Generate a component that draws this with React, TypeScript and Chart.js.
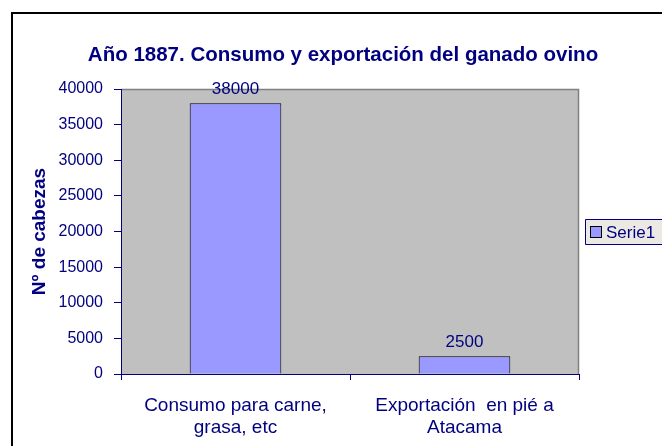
import React, { useEffect, useRef } from "react";
import { Chart, registerables } from "chart.js";

Chart.register(...registerables);

const categories: string[][] = [
  ["Consumo para carne,", "grasa, etc"],
  ["Exportación  en pié a", "Atacama"],
];
const serieValues: number[] = [38000, 2500];
const seriesLabel = "Serie1";
const chartTitle = "Año 1887. Consumo y exportación del ganado ovino";
const yAxisTitle = "Nº de cabezas";
const yMin = 0;
const yMax = 40000;
const yStep = 5000;

const NAVY = "#000080";
const FONT = "'Liberation Sans', Arial, Helvetica, sans-serif";

const plotBg = {
  id: "plotBg",
  beforeDraw(chart: any) {
    const { ctx, chartArea } = chart;
    const { left, top, right, bottom } = chartArea;
    ctx.save();
    ctx.fillStyle = "#C0C0C0";
    ctx.fillRect(left, top, right - left, bottom - top);
    ctx.strokeStyle = "#808080";
    ctx.lineWidth = 1.5;
    ctx.beginPath();
    ctx.moveTo(left, top + 0.5);
    ctx.lineTo(right - 0.5, top + 0.5);
    ctx.lineTo(right - 0.5, bottom);
    ctx.stroke();
    ctx.restore();
  },
};

const dataLabels = {
  id: "dataLabels",
  afterDatasetsDraw(chart: any) {
    const { ctx } = chart;
    ctx.save();
    ctx.font = `17px ${FONT}`;
    ctx.fillStyle = NAVY;
    ctx.textAlign = "center";
    ctx.textBaseline = "alphabetic";
    chart.data.datasets.forEach((ds: any, di: number) => {
      const meta = chart.getDatasetMeta(di);
      meta.data.forEach((bar: any, i: number) => {
        ctx.fillText(String(ds.data[i]), bar.x, bar.y - 9);
      });
    });
    ctx.restore();
  },
};

const customLegend = {
  id: "customLegend",
  afterDraw(chart: any) {
    const { ctx, chartArea, width } = chart;
    const ds = chart.data.datasets[0];
    const cy = Math.round((chartArea.top + chartArea.bottom) / 2);
    const left = Math.round(chartArea.right + 6);
    const top = cy - 13;
    const bottom = cy + 13;
    ctx.save();
    ctx.fillStyle = "#ECE9E4";
    ctx.fillRect(left, top, width - left + 10, bottom - top);
    ctx.strokeStyle = NAVY;
    ctx.lineWidth = 1;
    ctx.beginPath();
    ctx.moveTo(width + 10, top + 0.5);
    ctx.lineTo(left + 0.5, top + 0.5);
    ctx.lineTo(left + 0.5, bottom - 0.5);
    ctx.lineTo(width + 10, bottom - 0.5);
    ctx.stroke();
    ctx.fillStyle = ds.backgroundColor;
    ctx.fillRect(left + 5, cy - 6, 12, 12);
    ctx.strokeStyle = "#000000";
    ctx.strokeRect(left + 5.5, cy - 5.5, 11, 11);
    ctx.font = `17px ${FONT}`;
    ctx.fillStyle = NAVY;
    ctx.textAlign = "left";
    ctx.textBaseline = "middle";
    ctx.fillText(ds.label, left + 21, cy + 1);
    ctx.restore();
  },
};

export default function App() {
  const ref = useRef<HTMLCanvasElement | null>(null);
  useEffect(() => {
    if (!ref.current) return;
    const chart = new Chart(ref.current, {
      type: "bar",
      data: {
        labels: categories,
        datasets: [
          {
            label: seriesLabel,
            data: serieValues,
            backgroundColor: "#9999FF",
            borderColor: "#000000",
            borderWidth: 1,
            barPercentage: 0.4,
            categoryPercentage: 1,
            yAxisID: "y",
          },
        ],
      },
      options: {
        responsive: false,
        animation: false,
        devicePixelRatio: 1,
        layout: { padding: { left: 24, right: 0, top: 0, bottom: 0 } },
        plugins: {
          legend: { display: false },
          tooltip: { enabled: false },
          title: {
            display: true,
            text: chartTitle,
            color: NAVY,
            font: { family: FONT, size: 20.5, weight: "bold", lineHeight: 1.2 },
            padding: { top: 42.7, bottom: 21.7 },
          },
        },
        scales: {
          x: {
            afterFit(scale: any) {
              scale.height = 72;
            },
            grid: {
              display: true,
              drawOnChartArea: false,
              drawTicks: true,
              tickLength: 6,
              color: NAVY,
              offset: true,
            },
            border: { display: true, color: NAVY, width: 1 },
            ticks: {
              color: NAVY,
              font: { family: FONT, size: 19, lineHeight: 1.2 },
              padding: 14,
              maxRotation: 0,
              autoSkip: false,
            },
          },
          y: {
            min: yMin,
            max: yMax,
            afterFit(scale: any) {
              scale.width = 97;
            },
            grid: {
              display: true,
              drawOnChartArea: false,
              drawTicks: true,
              tickLength: 7,
              color: NAVY,
            },
            border: { display: true, color: NAVY, width: 1 },
            ticks: {
              stepSize: yStep,
              color: NAVY,
              font: { family: FONT, size: 16 },
              padding: 11,
              callback: (v: any) => String(v),
            },
            title: {
              display: true,
              text: yAxisTitle,
              color: NAVY,
              font: { family: FONT, size: 19, weight: "bold", lineHeight: 1.2 },
              padding: { top: 4, bottom: 0 },
            },
          },
          legendSpace: {
            type: "linear",
            position: "right",
            display: true,
            afterFit(scale: any) {
              scale.width = 83;
            },
            grid: { display: false, drawTicks: false },
            border: { display: false },
            ticks: { display: false },
          },
        },
      },
      plugins: [plotBg, dataLabels, customLegend],
    });
    return () => chart.destroy();
  }, []);

  return (
    <div>
      <div
        style={{
          position: "fixed",
          left: 11,
          top: 12,
          width: 900,
          height: 700,
          border: "2px solid #000",
          boxSizing: "border-box",
          background: "#fff",
        }}
      />
      <canvas
        ref={ref}
        width={662}
        height={446}
        style={{ position: "fixed", left: 0, top: 0, width: 662, height: 446 }}
      />
    </div>
  );
}
